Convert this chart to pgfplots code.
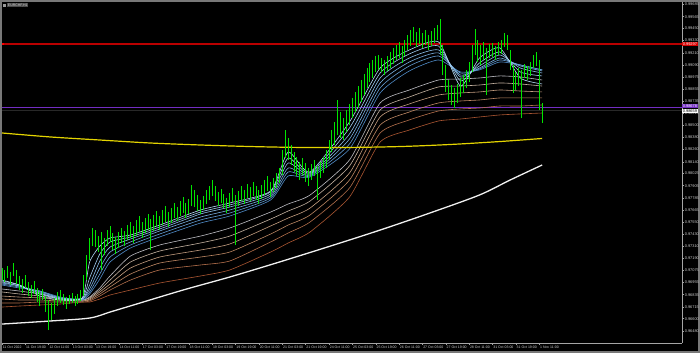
\documentclass[border=0pt]{standalone}
\usepackage{fontspec}
\setmainfont{Liberation Sans}
\usepackage{pgfplots}
\usepackage{pgfplotstable}
\pgfplotsset{compat=1.18}
\definecolor{barg}{RGB}{0,230,0}
\definecolor{axgray}{RGB}{165,165,165}
\definecolor{lblgray}{RGB}{205,205,205}
\definecolor{framegray}{RGB}{120,120,120}
\definecolor{s0}{RGB}{180,218,246}
\definecolor{s1}{RGB}{160,204,240}
\definecolor{s2}{RGB}{140,190,232}
\definecolor{s3}{RGB}{120,174,222}
\definecolor{s4}{RGB}{100,158,212}
\definecolor{s5}{RGB}{80,140,200}
\definecolor{l6}{RGB}{190,190,196}
\definecolor{l7}{RGB}{196,178,160}
\definecolor{l8}{RGB}{196,158,128}
\definecolor{l9}{RGB}{190,136,100}
\definecolor{l10}{RGB}{180,112,76}
\definecolor{l11}{RGB}{170,86,50}
\definecolor{ylw}{RGB}{228,212,0}
\definecolor{redl}{RGB}{185,0,0}
\definecolor{purp}{RGB}{115,45,195}
\definecolor{bidg}{RGB}{40,40,40}
\newcommand\datefont{\fontsize{3.5bp}{4bp}\selectfont}
\newcommand\pricefont{\fontsize{3.9bp}{4.2bp}\selectfont}

\pgfplotstableread{
x lo hi
0 0.96979 0.97097
2 0.96960 0.97078
4 0.96999 0.97117
6 0.96930 0.97058
8 0.97019 0.97146
10 0.96940 0.97078
12 0.96881 0.97019
14 0.96852 0.96989
16 0.96901 0.97028
18 0.96822 0.96960
20 0.96803 0.96930
22 0.96842 0.96970
24 0.96763 0.96901
26 0.96724 0.96862
28 0.96783 0.96891
30 0.96665 0.96822
32 0.96488 0.96783
34 0.96587 0.96754
36 0.96646 0.96803
38 0.96724 0.96862
40 0.96754 0.96881
42 0.96734 0.96842
44 0.96695 0.96812
46 0.96744 0.96832
48 0.96754 0.96852
50 0.96724 0.96822
52 0.96744 0.96842
54 0.96773 0.96881
56 0.96822 0.97028
58 0.96979 0.97225
60 0.97176 0.97392
62 0.97313 0.97490
64 0.97303 0.97470
66 0.97254 0.97411
68 0.97078 0.97451
70 0.97225 0.97392
72 0.97313 0.97470
74 0.97353 0.97510
76 0.97274 0.97441
78 0.97235 0.97402
80 0.97294 0.97451
82 0.97343 0.97490
84 0.97313 0.97461
86 0.97372 0.97519
88 0.97392 0.97549
90 0.97343 0.97510
92 0.97411 0.97569
94 0.97451 0.97608
96 0.97392 0.97549
98 0.97441 0.97588
100 0.97470 0.97628
102 0.97274 0.97578
104 0.97461 0.97618
106 0.97500 0.97657
108 0.97470 0.97608
110 0.97519 0.97667
112 0.97549 0.97706
114 0.97500 0.97647
116 0.97539 0.97686
118 0.97588 0.97736
120 0.97559 0.97696
122 0.97608 0.97755
124 0.97637 0.97794
126 0.97588 0.97736
128 0.97628 0.97775
130 0.97706 0.97912
132 0.97696 0.97863
134 0.97657 0.97814
136 0.97628 0.97765
138 0.97667 0.97804
140 0.97726 0.97863
142 0.97765 0.97902
144 0.97804 0.97961
146 0.97755 0.97902
148 0.97706 0.97844
150 0.97736 0.97873
152 0.97686 0.97824
154 0.97637 0.97785
156 0.97696 0.97834
158 0.97745 0.97883
160 0.97323 0.97814
162 0.97706 0.97853
164 0.97755 0.97902
166 0.97726 0.97863
168 0.97785 0.97922
170 0.97755 0.97893
172 0.97804 0.97942
174 0.97765 0.97902
176 0.97726 0.97863
178 0.97775 0.97912
180 0.97814 0.97961
182 0.97853 0.98001
184 0.97794 0.97942
186 0.97844 0.97981
188 0.97883 0.98030
190 0.97932 0.98079
192 0.98010 0.98256
194 0.98177 0.98452
196 0.98158 0.98374
198 0.98109 0.98305
200 0.98040 0.98236
202 0.98001 0.98187
204 0.97961 0.98138
206 0.98010 0.98177
208 0.97942 0.98128
210 0.97902 0.98079
212 0.97961 0.98119
214 0.98001 0.98158
216 0.97765 0.98099
218 0.97981 0.98138
220 0.98030 0.98187
222 0.98079 0.98256
224 0.98158 0.98354
226 0.98236 0.98452
228 0.98305 0.98531
230 0.98403 0.98747
232 0.98374 0.98629
234 0.98354 0.98570
236 0.98433 0.98649
238 0.98501 0.98708
240 0.98570 0.98767
242 0.98629 0.98826
244 0.98668 0.98884
246 0.98727 0.98943
248 0.98796 0.99002
250 0.98865 0.99061
252 0.98924 0.99110
254 0.98963 0.99140
256 0.99022 0.99179
258 0.99042 0.99189
260 0.99022 0.99159
262 0.98992 0.99140
264 0.99032 0.99179
266 0.99061 0.99218
268 0.99101 0.99258
270 0.99140 0.99287
272 0.99159 0.99317
274 0.99110 0.99277
276 0.99179 0.99336
278 0.99238 0.99385
280 0.99277 0.99434
282 0.99317 0.99464
284 0.99267 0.99415
286 0.99297 0.99454
288 0.99258 0.99405
290 0.99287 0.99434
292 0.99238 0.99385
294 0.99277 0.99425
296 0.99307 0.99454
298 0.99336 0.99483
300 0.99189 0.99542
302 0.98992 0.99287
304 0.98826 0.99091
306 0.98747 0.98943
308 0.98698 0.98894
310 0.98668 0.98865
312 0.98718 0.98904
314 0.98776 0.98963
316 0.98816 0.98992
318 0.98865 0.99042
320 0.98924 0.99120
322 0.99022 0.99287
324 0.99189 0.99444
326 0.99120 0.99336
328 0.99091 0.99287
330 0.99140 0.99317
332 0.98796 0.99258
334 0.99159 0.99297
336 0.99169 0.99307
338 0.99140 0.99277
340 0.99189 0.99317
342 0.99199 0.99336
344 0.99267 0.99405
346 0.99238 0.99385
348 0.99042 0.99238
350 0.98816 0.99091
352 0.98845 0.99022
354 0.98884 0.99061
356 0.98570 0.99042
358 0.98963 0.99101
360 0.98943 0.99081
362 0.98983 0.99120
364 0.99061 0.99189
366 0.99081 0.99218
368 0.98648 0.99140
370 0.98521 0.98718
}\bars

\pgfplotstableread{
x k0 k1 k2 k3 k4 k5 k6 k7 k8 k9 k10 k11
0 0.96979 0.96970 0.96960 0.96950 0.96940 0.96930 0.96891 0.96862 0.96822 0.96793 0.96754 0.96714
12 0.96930 0.96930 0.96920 0.96920 0.96911 0.96901 0.96871 0.96842 0.96812 0.96783 0.96754 0.96724
26 0.96822 0.96842 0.96852 0.96862 0.96871 0.96871 0.96842 0.96822 0.96803 0.96783 0.96763 0.96734
40 0.96783 0.96793 0.96793 0.96803 0.96803 0.96812 0.96803 0.96793 0.96783 0.96773 0.96763 0.96744
55 0.96803 0.96803 0.96793 0.96793 0.96793 0.96783 0.96783 0.96783 0.96773 0.96773 0.96763 0.96763
60 0.97156 0.96999 0.96930 0.96891 0.96862 0.96842 0.96812 0.96803 0.96793 0.96783 0.96773 0.96763
67 0.97313 0.97235 0.97166 0.97097 0.97038 0.96989 0.96901 0.96881 0.96862 0.96842 0.96822 0.96793
74 0.97392 0.97353 0.97303 0.97254 0.97205 0.97156 0.97019 0.96979 0.96940 0.96911 0.96881 0.96832
88 0.97421 0.97402 0.97382 0.97353 0.97323 0.97294 0.97215 0.97156 0.97097 0.97038 0.96979 0.96881
108 0.97519 0.97500 0.97480 0.97461 0.97431 0.97402 0.97323 0.97264 0.97205 0.97146 0.97078 0.96950
136 0.97667 0.97647 0.97628 0.97598 0.97569 0.97539 0.97411 0.97343 0.97274 0.97205 0.97127 0.97019
156 0.97736 0.97716 0.97696 0.97667 0.97637 0.97608 0.97490 0.97411 0.97333 0.97254 0.97166 0.97078
184 0.97853 0.97844 0.97824 0.97804 0.97785 0.97765 0.97647 0.97578 0.97510 0.97431 0.97353 0.97254
196 0.98236 0.98177 0.98128 0.98079 0.98040 0.98001 0.97726 0.97657 0.97588 0.97519 0.97441 0.97343
211 0.98040 0.98030 0.98020 0.98010 0.98001 0.97991 0.97814 0.97755 0.97686 0.97618 0.97549 0.97451
238 0.98531 0.98472 0.98413 0.98364 0.98315 0.98266 0.98158 0.98099 0.98030 0.97961 0.97883 0.97794
259 0.99061 0.99012 0.98963 0.98914 0.98865 0.98816 0.98718 0.98649 0.98580 0.98501 0.98423 0.98335
279 0.99238 0.99199 0.99159 0.99120 0.99081 0.99032 0.98845 0.98776 0.98708 0.98629 0.98551 0.98452
299 0.99317 0.99277 0.99238 0.99209 0.99179 0.99140 0.98943 0.98875 0.98796 0.98718 0.98639 0.98541
314 0.98884 0.98934 0.98973 0.98992 0.99012 0.99022 0.98953 0.98884 0.98816 0.98737 0.98659 0.98560
327 0.99159 0.99110 0.99081 0.99061 0.99051 0.99042 0.98963 0.98894 0.98826 0.98747 0.98668 0.98580
341 0.99258 0.99218 0.99189 0.99159 0.99140 0.99120 0.98983 0.98914 0.98845 0.98767 0.98688 0.98600
355 0.98963 0.99022 0.99061 0.99081 0.99091 0.99091 0.98973 0.98904 0.98835 0.98767 0.98688 0.98610
370 0.98904 0.98983 0.99012 0.99032 0.99042 0.99042 0.98943 0.98884 0.98826 0.98767 0.98698 0.98619
}\fan

\pgfplotstableread{
x y
0 0.98423
33 0.98384
67 0.98354
101 0.98325
136 0.98305
170 0.98290
204 0.98281
238 0.98281
273 0.98290
307 0.98310
341 0.98339
370 0.98369
}\yma

\pgfplotstableread{
x y
0 0.96547
33 0.96577
60 0.96606
74 0.96665
90 0.96734
124 0.96881
156 0.97009
190 0.97156
225 0.97313
259 0.97470
293 0.97637
327 0.97814
348 0.97961
370 0.98109
}\wma

\begin{document}
\begin{tikzpicture}
\fill[black] (0,0) rectangle (700bp,353bp);
\draw[framegray, line width=1.6bp] (0.8bp,0.8bp) rectangle (699.2bp,352.2bp);
\begin{axis}[
  at={(2bp,10bp)}, anchor=south west,
  width=680bp, height=341bp, scale only axis,
  xmin=0, xmax=465.75, ymin=0.96361, ymax=0.99709,
  clip=false,
  scaled x ticks=false, scaled y ticks=false,
  axis x line*=bottom, axis y line*=right,
  axis line style={draw=axgray, line width=0.6bp},
  tick align=outside, major tick length=2.2bp,
  tick style={draw=axgray, line width=0.5bp},
  xtick={0,16,...,368},
  xticklabels={11 Oct 2022,11 Oct 19:00,12 Oct 11:00,13 Oct 03:00,13 Oct 19:00,14 Oct 11:00,17 Oct 03:00,17 Oct 19:00,18 Oct 11:00,19 Oct 03:00,19 Oct 19:00,20 Oct 11:00,21 Oct 03:00,21 Oct 19:00,24 Oct 11:00,25 Oct 03:00,25 Oct 19:00,26 Oct 11:00,27 Oct 03:00,27 Oct 19:00,28 Oct 11:00,31 Oct 03:00,31 Oct 19:00,1 Nov 11:00},
  xticklabel style={anchor=north west, font=\datefont, text=lblgray, inner sep=0pt, xshift=0.6bp, yshift=-0.6bp},
  ytick={0.96360,0.96480,0.96600,0.96715,0.96835,0.96955,0.97075,0.97190,0.97310,0.97430,0.97550,0.97665,0.97785,0.97905,0.98025,0.98140,0.98260,0.98380,0.98500,0.98615,0.98735,0.98855,0.98975,0.99090,0.99210,0.99330,0.99450,0.99565,0.99685},
  yticklabels={0.96360,0.96480,0.96600,0.96715,0.96835,0.96955,0.97075,0.97190,0.97310,0.97430,0.97550,0.97665,0.97785,0.97905,0.98025,0.98140,0.98260,0.98380,0.98500,0.98615,0.98735,0.98855,0.98975,0.99090,0.99210,0.99330,0.99450,0.99565,0.99685},
  yticklabel style={anchor=west, font=\pricefont, text=lblgray, inner sep=0pt, xshift=0.4bp},
  every axis plot post/.append style={line join=round},
]
% horizontal lines
\addplot[bidg, line width=0.9bp, forget plot] coordinates {(0,0.98645) (465.75,0.98645)};
\addplot[purp, line width=1bp, forget plot] coordinates {(0,0.98678) (465.75,0.98678)};
\addplot[redl, line width=1.1bp, forget plot] coordinates {(0,0.99297) (465.75,0.99297)};
% long group
\addplot[l11, line width=0.6bp, smooth, tension=0.35] table[x=x,y=k11] {\fan};
\addplot[l10, line width=0.6bp, smooth, tension=0.35] table[x=x,y=k10] {\fan};
\addplot[l9, line width=0.6bp, smooth, tension=0.35] table[x=x,y=k9] {\fan};
\addplot[l8, line width=0.6bp, smooth, tension=0.35] table[x=x,y=k8] {\fan};
\addplot[l7, line width=0.6bp, smooth, tension=0.35] table[x=x,y=k7] {\fan};
\addplot[l6, line width=0.6bp, smooth, tension=0.35] table[x=x,y=k6] {\fan};
% short group
\addplot[s5, line width=0.6bp, smooth, tension=0.35] table[x=x,y=k5] {\fan};
\addplot[s4, line width=0.6bp, smooth, tension=0.35] table[x=x,y=k4] {\fan};
\addplot[s3, line width=0.6bp, smooth, tension=0.35] table[x=x,y=k3] {\fan};
\addplot[s2, line width=0.6bp, smooth, tension=0.35] table[x=x,y=k2] {\fan};
\addplot[s1, line width=0.6bp, smooth, tension=0.35] table[x=x,y=k1] {\fan};
\addplot[s0, line width=0.6bp, smooth, tension=0.35] table[x=x,y=k0] {\fan};
% yellow and white
\addplot[ylw, line width=1.2bp, smooth, tension=0.5] table[x=x,y=y] {\yma};
\addplot[white!94!black, line width=1.3bp, smooth, tension=0.5] table[x=x,y=y] {\wma};
% bars
\addplot[draw=none, mark=none, forget plot,
  error bars/.cd, y dir=plus, y explicit, error mark=none,
  error bar style={draw=barg, line width=1bp}]
  table[x=x, y=lo, y error expr=\thisrow{hi}-\thisrow{lo}] {\bars};
% price boxes
\node[anchor=west, fill=purp, text=white, font=\pricefont, inner xsep=0.5bp, inner ysep=0.4bp, xshift=0.2bp] at (axis cs:465.75,0.98690) {0.98678};
\node[anchor=west, fill=white, text=black, font=\pricefont, inner xsep=0.5bp, inner ysep=0.5bp, xshift=0.2bp] at (axis cs:465.75,0.98640) {0.98659};
\node[anchor=west, fill=red!85!black, text=white, font=\pricefont, inner xsep=0.5bp, inner ysep=0.5bp, xshift=0.2bp] at (axis cs:465.75,0.99297) {0.99297};
\end{axis}
\fill[red] (1.6bp,308.2bp) rectangle (3.6bp,309.8bp);
\fill[gray!80] (3bp,346.4bp) rectangle (6bp,349bp);
\node[anchor=west, fill=black!70, text=lblgray, font=\datefont, inner xsep=0.8bp, inner ysep=0.5bp] at (7bp,347.7bp) {EURCHF,H1};
\pgfresetboundingbox
\path[use as bounding box] (0,0) rectangle (700bp,353bp);
\end{tikzpicture}
\end{document}
